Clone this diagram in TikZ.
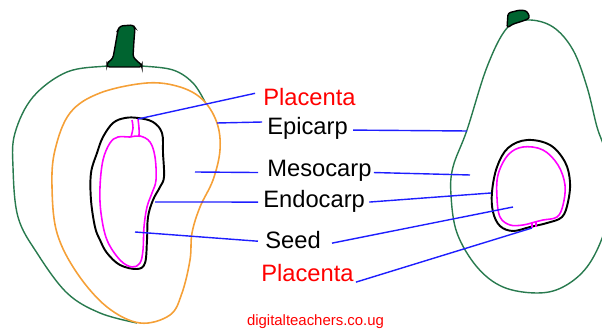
\documentclass[tikz,border=0pt]{standalone}
\usepackage{fontspec}
\setmainfont{Liberation Sans}
\usepackage{xcolor}
\definecolor{skingreen}{RGB}{40,122,78}
\definecolor{stemgreen}{RGB}{0,100,48}
\definecolor{fleshorange}{RGB}{245,160,55}
\definecolor{seedpink}{RGB}{255,0,255}
\definecolor{lineblue}{RGB}{30,30,255}

\begin{document}
\begin{tikzpicture}[x=0.02cm,y=-0.02cm,
		part/.style={anchor=base west,inner sep=0pt,font=\fontsize{13.5}{16}\selectfont},
		pointer/.style={lineblue,line width=0.8pt},
		skin/.style={skingreen,line width=0.8pt},
		flesh/.style={fleshorange,line width=0.9pt},
		stone/.style={black,line width=1.1pt},
		kernel/.style={seedpink,line width=0.9pt},
		stalk/.style={fill=stemgreen,draw=black,line width=0.8pt,rounded corners=1.5pt}]
		\useasboundingbox (0,0) rectangle (602,330);
		% cut fruit
		\draw[skin] plot[smooth,tension=0.6] coordinates {(205,102) (193,83) (173,70) (142,66) (124,65) (107,66) (67,72) (33,97) (15,133) (13,167) (18,217) (37,253) (67,293) (100,313) (137,323)};
		\draw[flesh] plot[smooth cycle,tension=0.6] coordinates {(147,83) (100,93) (70,113) (55,150) (52,187) (57,233) (77,273) (107,307) (140,323) (170,315) (182,293) (190,260) (192,233) (200,207) (213,180) (220,150) (217,123) (203,100) (180,87)};
		\draw[stone] plot[smooth cycle,tension=0.6] coordinates {(138,118) (153,122) (162,133) (163,153) (164,177) (160,187) (153,200) (148,217) (147,240) (145,263) (137,269) (120,265) (107,253) (100,240) (95,227) (91,200) (91,173) (97,153) (103,137) (113,123) (125,118)};
		\draw[kernel] plot[smooth cycle,tension=0.6] coordinates {(130,137) (140,136) (150,142) (155,157) (156,180) (152,193) (147,207) (144,227) (143,250) (140,263) (132,267) (120,260) (107,240) (101,213) (100,187) (103,160) (110,143) (118,137)};
		\draw[kernel] plot[smooth] coordinates {(132,120) (133,128) (131,137)};
		\draw[kernel] plot[smooth] coordinates {(138,119) (139,128) (139,137)};
		\draw[stalk] (118,30) -- (120,26) -- (133,25) -- (135,28) -- (134,40) -- (133,57) -- (138,62) -- (142,65) -- (142,67) -- (107,67) -- (107,63) -- (110,61) -- (113,58) -- (115,47) -- cycle;
		% whole fruit
		\draw[skin] plot[smooth cycle,tension=0.6] coordinates {(507,28) (487,67) (467,130) (453,167) (451,195) (457,233) (477,267) (503,287) (537,293) (563,287) (587,267) (604,233) (614,190) (605,150) (597,127) (587,87) (573,50) (553,27) (528,20)};
		\draw[stone] plot[smooth cycle,tension=0.6] coordinates {(527,140) (550,145) (565,162) (570,182) (568,202) (562,217) (547,223) (530,227) (513,231) (500,226) (493,212) (492,192) (497,167) (508,148)};
		\draw[kernel] plot[smooth cycle,tension=0.6] coordinates {(523,147) (543,150) (558,165) (565,185) (563,205) (557,217) (543,220) (535,222) (523,225) (510,225) (500,217) (497,198) (498,175) (508,155)};
		\draw[kernel] (532,223) -- (532,228);
		\draw[kernel] (536,222) -- (536,227);
		\draw[stalk] (508,13) -- (520,10) -- (527,11) -- (530,18) -- (523,21) -- (513,24) -- (507,28) -- cycle;

		\node[part,text=red] (plaT) at (263,106) {Placenta};
		\node[part] (epi) at (267,135) {Epicarp};
		\node[part] (meso) at (267,177) {Mesocarp};
		\node[part] (endo) at (263,207.5) {Endocarp};
		\node[part] (seed) at (265,249) {Seed};
		\node[part,text=red] (plaB) at (261,282) {Placenta};
		\node[anchor=base,inner sep=0pt,text=red,font=\fontsize{8.5}{10}\selectfont] (site) at (315.5,325.5) {digitalteachers.co.ug};

		\coordinate (plaL) at (138,119);
		\coordinate (epiL) at (217,123);
		\coordinate (mesoL) at (195,172);
		\coordinate (endoL) at (155,202);
		\coordinate (seedL) at (135,232);
		\coordinate (epiR) at (467,131);
		\coordinate (mesoR) at (470,175);
		\coordinate (endoR) at (491,193);
		\coordinate (seedR) at (513,207);
		\coordinate (plaR) at (532,228);

		\draw[pointer] (plaL) -- ([xshift=-4.5pt,yshift=2.4pt]plaT.west);
		\draw[pointer] (epiL) -- ([xshift=-2.8pt,yshift=3.9pt]epi.west);
		\draw[pointer] (mesoL) -- ([xshift=-5.1pt,yshift=-0.7pt]meso.west);
		\draw[pointer] (endoL) -- ([xshift=-2.8pt,yshift=-0.4pt]endo.west);
		\draw[pointer] (seedL) -- ([xshift=-4pt,yshift=-0.4pt]seed.west);
		\draw[pointer] ([xshift=2.8pt,yshift=-0.7pt]epi.east) -- (epiR);
		\draw[pointer] ([xshift=1.1pt,yshift=-0.7pt]meso.east) -- (mesoR);
		\draw[pointer] ([xshift=2.3pt,yshift=-0.4pt]endo.east) -- (endoR);
		\draw[pointer] ([xshift=6.2pt,yshift=-1.5pt]seed.east) -- (seedR);
		\draw[pointer] ([xshift=1.1pt,yshift=-4.9pt]plaB.east) -- (plaR);
	\end{tikzpicture}
\end{document}
